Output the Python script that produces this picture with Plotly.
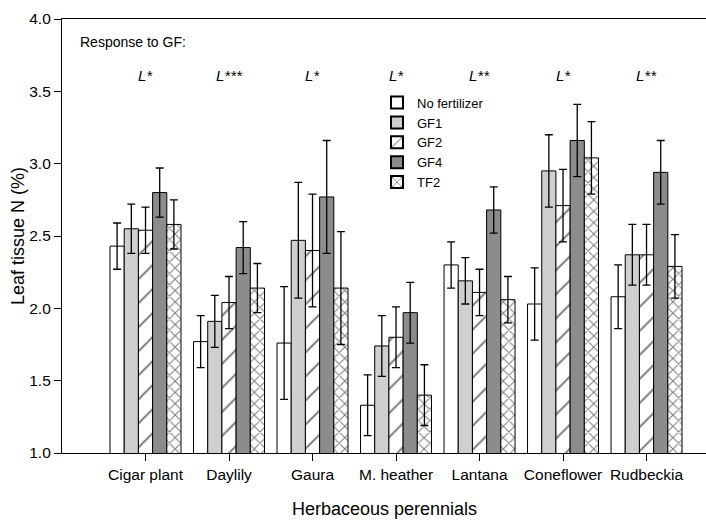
import plotly.graph_objects as go

categories = ["Cigar plant", "Daylily", "Gaura", "M. heather", "Lantana", "Coneflower", "Rudbeckia"]
series_names = ["No fertilizer", "GF1", "GF2", "GF4", "TF2"]

no_fert = [2.43, 1.77, 1.76, 1.33, 2.30, 2.03, 2.08]
gf1 = [2.55, 1.91, 2.47, 1.74, 2.19, 2.95, 2.37]
gf2 = [2.54, 2.04, 2.40, 1.80, 2.11, 2.71, 2.37]
gf4 = [2.80, 2.42, 2.77, 1.97, 2.68, 3.16, 2.94]
tf2 = [2.58, 2.14, 2.14, 1.40, 2.06, 3.04, 2.29]

no_fert_err = [0.16, 0.18, 0.39, 0.21, 0.16, 0.25, 0.22]
gf1_err = [0.17, 0.18, 0.40, 0.21, 0.16, 0.25, 0.21]
gf2_err = [0.16, 0.18, 0.39, 0.21, 0.16, 0.25, 0.21]
gf4_err = [0.17, 0.18, 0.39, 0.21, 0.16, 0.25, 0.22]
tf2_err = [0.17, 0.17, 0.39, 0.21, 0.16, 0.25, 0.22]

significance = ["L*", "L***", "L*", "L*", "L**", "L*", "L**"]

values = [no_fert, gf1, gf2, gf4, tf2]
errors = [no_fert_err, gf1_err, gf2_err, gf4_err, tf2_err]
colors = ["white", "#cfcfcf", "white", "#8c8c8c", "white"]
patterns = ["", "", "/", "", "x"]
pattern_sizes = [0, 0, 17, 0, 8]
pattern_solidity = [0, 0, 0.12, 0, 0.25]

FONT = "Arial, Liberation Sans, sans-serif"

fig = go.Figure()
for name, vals, errs, col, pat, psz, psol in zip(series_names, values, errors, colors,
                                                  patterns, pattern_sizes, pattern_solidity):
    fig.add_trace(go.Bar(
        x=categories, y=vals, name=name,
        marker=dict(color=col, line=dict(color="black", width=1),
                    pattern=dict(shape=pat, fgcolor="black", bgcolor="white",
                                 size=psz, solidity=psol) if pat else None),
        error_y=dict(type="data", array=errs, visible=True, color="black",
                     thickness=1.3, width=4),
    ))

fig.add_annotation(x=0.025, xref="paper", y=3.84, yref="y", text="Response to GF:",
                   showarrow=False, xanchor="left", font=dict(size=14, color="black", family=FONT))
for c, s in zip(categories, significance):
    fig.add_annotation(x=c, y=3.61, text="<i>" + s + "</i>", showarrow=False,
                       font=dict(size=15, color="black", family=FONT))

# axis titles
fig.add_annotation(x=322 / 648, xref="paper", y=-0.13, yref="paper", yanchor="middle",
                   text="Herbaceous perennials", showarrow=False,
                   font=dict(size=18, color="black", family=FONT))
fig.add_annotation(x=-44 / 648, xref="paper", y=0.5, yref="paper", xanchor="center",
                   text="Leaf tissue N (%)", showarrow=False, textangle=-90,
                   font=dict(size=18, color="black", family=FONT))

fig.update_layout(
    width=710, height=520,
    margin=dict(l=62, r=0, t=19, b=67),
    paper_bgcolor="white", plot_bgcolor="white",
    barmode="group", bargap=0.15, bargroupgap=0,
    font=dict(family=FONT, color="black"),
    legend=dict(x=315 / 648, y=0.842, xanchor="left", yanchor="top",
                font=dict(size=13, color="black"), bgcolor="rgba(0,0,0,0)",
                tracegroupgap=0, itemsizing="constant"),
    showlegend=True,
)
fig.update_xaxes(range=[-1, 6.76], showline=True, linecolor="black", linewidth=1.2,
                 mirror=True, ticks="outside", ticklen=7, tickcolor="black",
                 tickfont=dict(size=15.5, color="black"), automargin=False,
                 showgrid=False)
fig.update_yaxes(range=[1.0, 4.0], dtick=0.5, tickformat=".1f", showline=True,
                 linecolor="black", linewidth=1.2, ticks="outside", ticklen=7,
                 tickcolor="black", tickfont=dict(size=15.5, color="black"), automargin=False,
                 showgrid=False, zeroline=False, mirror=False)

fig.write_html("out.html", config={"displayModeBar": False},
               post_script="document.body.style.margin='0px';document.body.style.overflow='hidden';")
